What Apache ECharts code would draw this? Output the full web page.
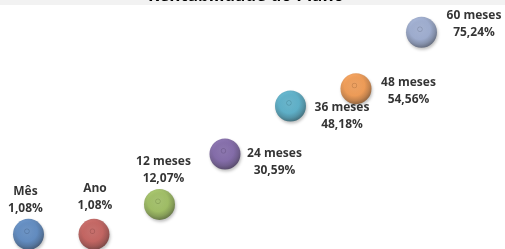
<!DOCTYPE html>
<html>
<head>
<meta charset="utf-8">
<script src="https://cdn.jsdelivr.net/npm/echarts@6/dist/echarts.min.js"></script>
<style>
  html, body { margin: 0; padding: 0; background: #fff; }
  #chart { width: 505px; height: 249px; }
</style>
</head>
<body>
<div id="chart"></div>
<script>
// dados do gráfico
const periodos = ['Mês', 'Ano', '12 meses', '24 meses', '36 meses', '48 meses', '60 meses'];
const posicaoX = [1, 2, 3, 4, 5, 6, 7];
const rentabilidade = [1.08, 1.08, 12.07, 30.59, 48.18, 54.56, 75.24];
const cores = ['#4A7EBF', '#C24E4A', '#96BB4E', '#7457A2', '#45AAC8', '#F7913C', '#94A6D0'];

// rótulos: acima para os três primeiros, à direita para os demais
const labelPos = ['top', 'top', 'top', 'right', 'right', 'right', 'right'];
const labelOffset = [[-3, 4], [1, 1], [4, 4], [28, 8], [30, 10], [31, 2], [31, -8]];

function shade(hex, f) {
  const n = parseInt(hex.slice(1), 16);
  let r = (n >> 16) & 255, g = (n >> 8) & 255, b = n & 255;
  const mix = v => f >= 0 ? Math.round(v + (255 - v) * f) : Math.round(v * (1 + f));
  return 'rgb(' + mix(r) + ',' + mix(g) + ',' + mix(b) + ')';
}

function esfera(cor) {
  return {
    type: 'radial', x: 0.45, y: 0.4, r: 0.6,
    colorStops: [
      { offset: 0, color: shade(cor, 0.08) },
      { offset: 0.08, color: shade(cor, 0.06) },
      { offset: 0.12, color: shade(cor, -0.15) },
      { offset: 0.17, color: shade(cor, 0.06) },
      { offset: 0.55, color: shade(cor, 0) },
      { offset: 0.8, color: shade(cor, -0.2) },
      { offset: 1, color: shade(cor, -0.45) }
    ]
  };
}

const chart = echarts.init(document.getElementById('chart'));

const dados = periodos.map((p, i) => ({
  name: p,
  value: [posicaoX[i], rentabilidade[i]],
  itemStyle: { color: esfera(cores[i]) },
  label: { position: labelPos[i], offset: labelOffset[i] }
}));

const option = {
  animation: false,
  backgroundColor: '#ffffff',
  grid: { left: 0, right: 0, top: 0, bottom: 0 },
  xAxis: { type: 'value', min: 0.565, max: 8.275, show: false },
  yAxis: { type: 'value', min: -4.3, max: 87.1, show: false },
  graphic: [
    { type: 'rect', left: 0, top: 0, shape: { width: 505, height: 5 }, style: { fill: '#f2f2f2' }, z: 0 },
    {
      type: 'text', x: 246, y: 5,
      style: {
        text: 'Rentabilidade do Plano',
        font: 'bold 17px "Open Sans", sans-serif',
        fill: '#000', align: 'center', verticalAlign: 'bottom'
      },
      z: 1
    }
  ],
  series: [
    {
      type: 'scatter',
      symbol: 'circle',
      symbolSize: 31,
      data: dados,
      itemStyle: {
        shadowBlur: 3,
        shadowOffsetX: 1,
        shadowOffsetY: 2,
        shadowColor: 'rgba(0,0,0,0.3)'
      },
      label: {
        show: true,
        distance: 6,
        formatter: p => p.name + '\n' + p.value[1].toFixed(2).replace('.', ',') + '%',
        fontFamily: '"Open Sans", sans-serif',
        fontWeight: 'bold',
        fontSize: 12,
        lineHeight: 17,
        color: '#000',
        align: 'center'
      }
    }
  ]
};

chart.setOption(option);
</script>
</body>
</html>
